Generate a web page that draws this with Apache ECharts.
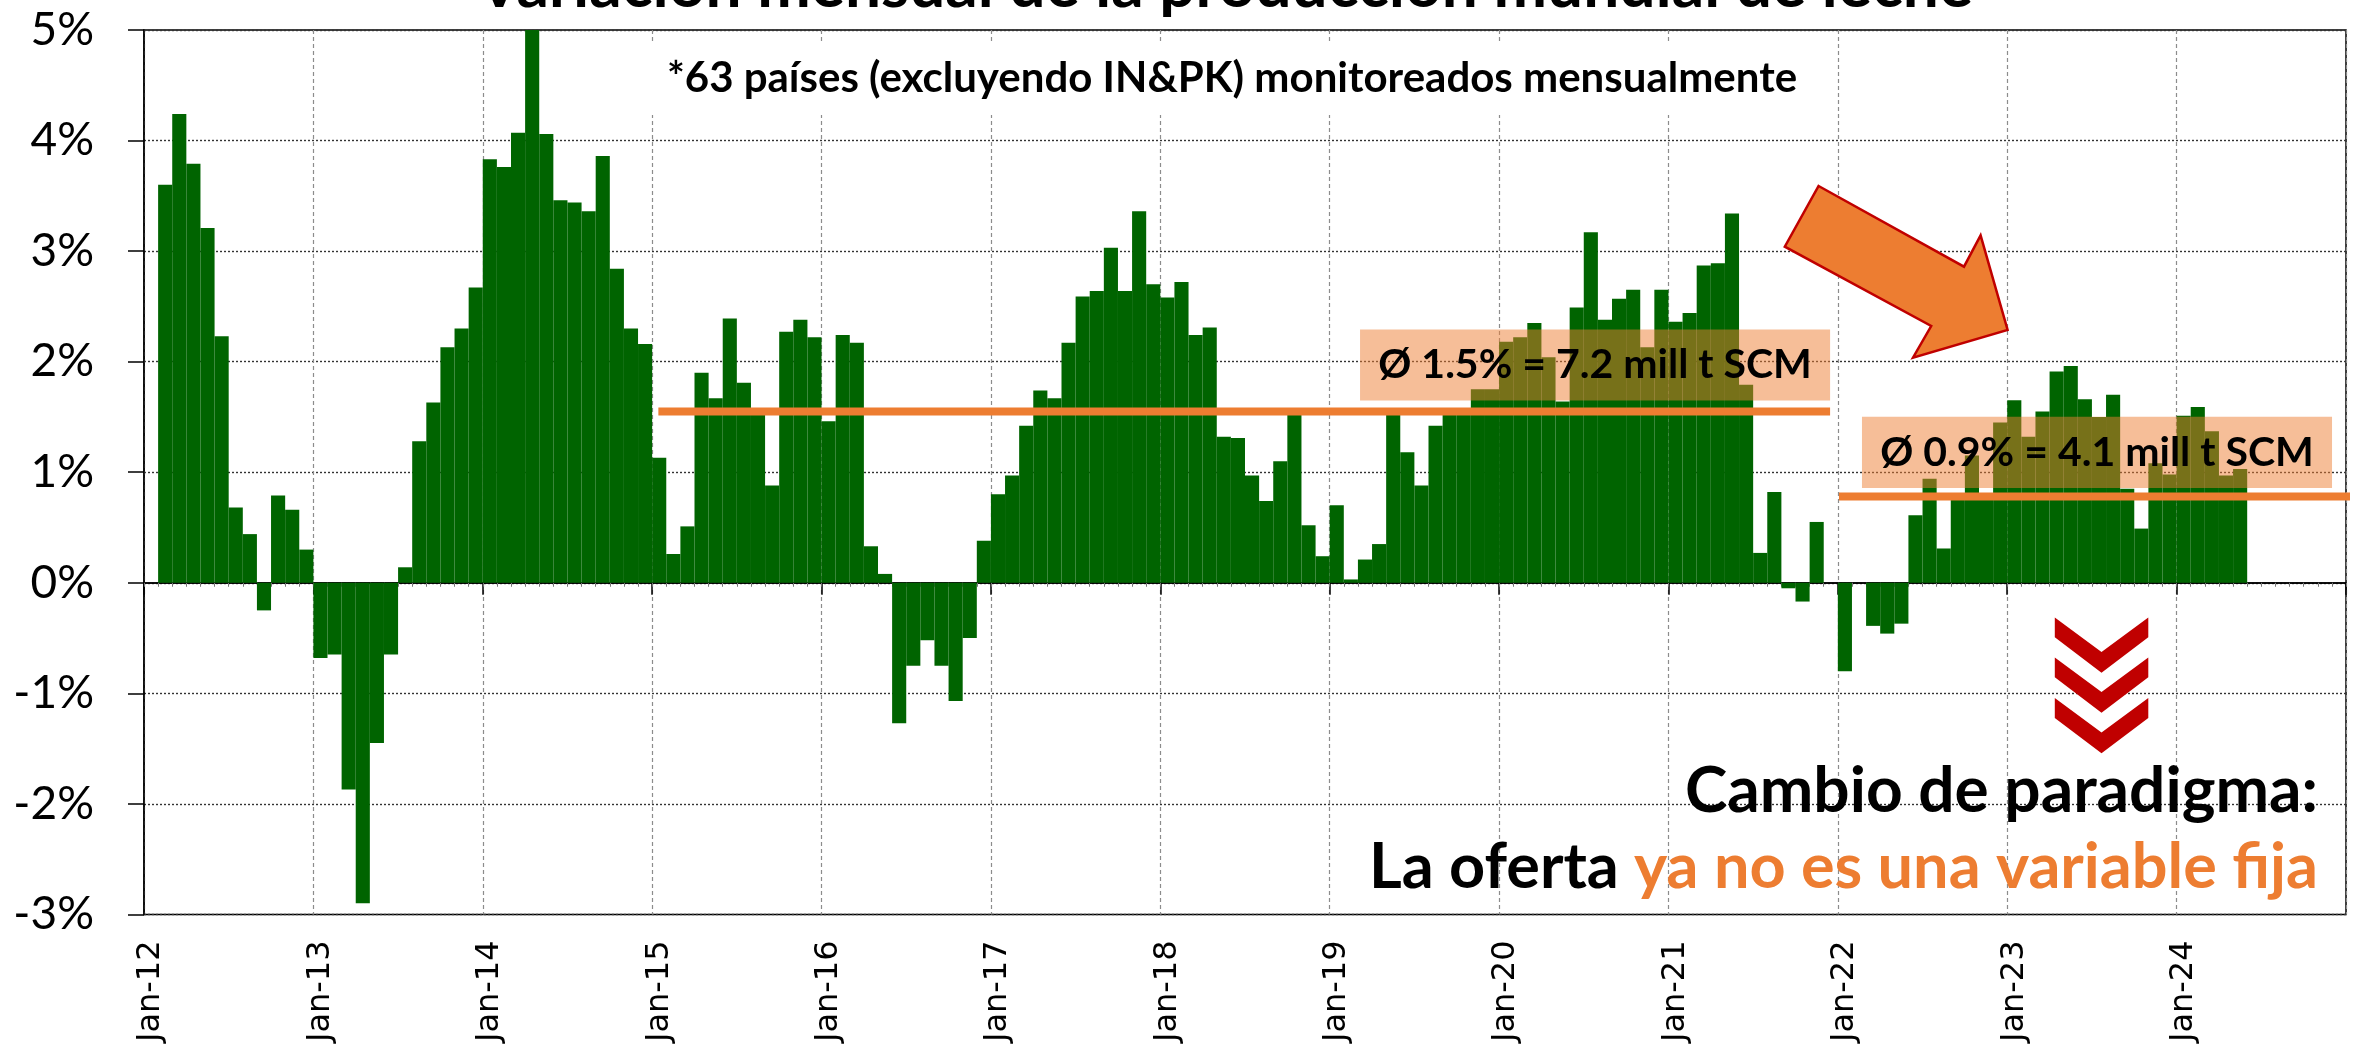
<!DOCTYPE html>
<html>
<head>
<meta charset="utf-8">
<script src="https://cdn.jsdelivr.net/npm/echarts@6/dist/echarts.min.js"></script>
<style>
html,body{margin:0;padding:0;background:#ffffff;}
#chart{width:2374px;height:1045px;}
</style>
</head>
<body>
<div id="chart"></div>
<script>
// ---------- DATA ----------
const monthNames = ['Jan','Feb','Mar','Apr','May','Jun','Jul','Aug','Sep','Oct','Nov','Dec'];
const yearLabels = ['12','13','14','15','16','17','18','19','20','21','22','23','24'];

// monthly y/y change of world milk production (%), Jan..Dec per year
const v2012 = [null, 3.60, 4.24, 3.79, 3.21, 2.23, 0.68, 0.44, -0.25, 0.79, 0.66, 0.30];
const v2013 = [-0.68, -0.65, -1.87, -2.90, -1.45, -0.65, 0.14, 1.28, 1.63, 2.13, 2.30, 2.67];
const v2014 = [3.83, 3.76, 4.07, 5.00, 4.06, 3.46, 3.44, 3.36, 3.86, 2.84, 2.30, 2.16];
const v2015 = [1.13, 0.26, 0.51, 1.90, 1.67, 2.39, 1.81, 1.55, 0.88, 2.27, 2.38, 2.22];
const v2016 = [1.46, 2.24, 2.17, 0.33, 0.08, -1.27, -0.75, -0.52, -0.75, -1.07, -0.50, 0.38];
const v2017 = [0.80, 0.97, 1.42, 1.74, 1.67, 2.17, 2.59, 2.64, 3.03, 2.64, 3.36, 2.70];
const v2018 = [2.58, 2.72, 2.24, 2.31, 1.32, 1.31, 0.97, 0.74, 1.10, 1.53, 0.52, 0.24];
const v2019 = [0.70, 0.03, 0.21, 0.35, 1.53, 1.18, 0.88, 1.42, 1.53, 1.55, 1.75, 1.75];
const v2020 = [2.18, 2.22, 2.35, 2.04, 1.64, 2.49, 3.17, 2.38, 2.57, 2.65, 2.13, 2.65];
const v2021 = [2.36, 2.44, 2.87, 2.89, 3.34, 1.79, 0.27, 0.82, -0.05, -0.17, 0.55, 0.00];
const v2022 = [-0.80, 0.00, -0.39, -0.46, -0.37, 0.61, 0.94, 0.31, 0.78, 1.15, 0.78, 1.45];
const v2023 = [1.65, 1.32, 1.55, 1.91, 1.96, 1.66, 1.50, 1.70, 0.85, 0.49, 1.08, 0.98];
const v2024 = [1.51, 1.59, 1.37, 0.97, 1.03, null, null, null, null, null, null, null];

// average lines: [start month position, level], [end month position, level]
const mean1 = [[36.44, 1.55], [119.45, 1.55]];
const mean2 = [[120.08, 0.78], [158.0, 0.78]];
// label boxes: [x0, yTop, x1, yBottom] in (month position, %)
const boxes = [[86.15, 2.29, 119.45, 1.648], [121.71, 1.502, 155.01, 0.857]];
const boxLabels = ['Ø 1.5% = 7.2 mill t SCM', 'Ø 0.9% = 4.1 mill t SCM'];

const yTicks = { min: -3, max: 5, interval: 1 };

const titleText = 'Variación mensual de la producción mundial de leche';
const subtitleText = '*63 países (excluyendo IN&PK) monitoreados mensualmente';

// ---------- BUILD ----------
const categories = [];
yearLabels.forEach(y => monthNames.forEach(m => categories.push(m + '-' + y)));
const values = [].concat(v2012, v2013, v2014, v2015, v2016, v2017, v2018, v2019, v2020, v2021, v2022, v2023, v2024);

const ORANGE = '#ED7D31';
const GREEN = '#006400';
const RED = '#C00000';
const FONT = 'Lato';

const chart = echarts.init(document.getElementById('chart'), null, { renderer: 'canvas' });

function chevron(top) {
  return [[2054.8, top], [2101.5, top + 34.4], [2148.3, top], [2148.3, top + 19.8], [2101.5, top + 55.2], [2054.8, top + 19.8]];
}

const option = {
  animation: false,
  backgroundColor: '#ffffff',
  grid: { left: 144, right: 28, top: 30, bottom: 123, show: true, borderColor: '#000', borderWidth: 1.5, backgroundColor: 'transparent' },
  xAxis: [
    {
      type: 'category', data: categories, position: 'bottom',
      axisLine: { show: false, onZero: false },
      axisTick: { show: false },
      axisLabel: { interval: 11, rotate: 90, fontSize: 32, fontFamily: 'DejaVu Sans', color: '#000', margin: 26 },
      splitLine: { show: true, interval: 11, lineStyle: { color: '#8c8c8c', type: [4, 3], width: 1.2 } }
    },
    {
      type: 'category', data: categories, position: 'bottom',
      axisLine: { show: true, onZero: true, onZeroAxisIndex: 0, lineStyle: { color: '#000', width: 1.5 } },
      axisTick: { show: true, interval: 11, length: 12, lineStyle: { color: '#000', width: 1.5 } },
      axisLabel: { show: false },
      splitLine: { show: false }
    },
    {
      type: 'category', data: categories, position: 'bottom',
      axisLine: { show: true, onZero: true, onZeroAxisIndex: 0, lineStyle: { color: '#000', width: 1.5 } },
      axisTick: { show: true, interval: 0, length: 4, lineStyle: { color: '#777', width: 1 } },
      axisLabel: { show: false },
      splitLine: { show: false }
    },
    { type: 'value', min: 0, max: categories.length, show: false }
  ],
  yAxis: [{
    type: 'value', min: yTicks.min, max: yTicks.max, interval: yTicks.interval,
    axisLine: { show: true, onZero: false, lineStyle: { color: '#000', width: 1.5 } },
    axisTick: { show: true, length: 16, lineStyle: { color: '#000', width: 1.5 } },
    axisLabel: { formatter: '{value}%', fontSize: 46, fontFamily: FONT, color: '#000', margin: 50 },
    splitLine: { show: true, lineStyle: { color: '#333', type: [2, 2], width: 1.4 } }
  }],
  series: [
    {
      type: 'bar', data: values, xAxisIndex: 0, yAxisIndex: 0,
      barCategoryGap: '0%', barGap: '0%',
      itemStyle: { color: GREEN },
      z: 2, silent: true
    },
    {
      type: 'line', data: mean1, xAxisIndex: 3, yAxisIndex: 0, symbol: 'none', clip: false,
      lineStyle: { color: ORANGE, width: 8, cap: 'butt' }, z: 4, silent: true
    },
    {
      type: 'line', data: mean2, xAxisIndex: 3, yAxisIndex: 0, symbol: 'none', clip: false,
      lineStyle: { color: ORANGE, width: 8, cap: 'butt' }, z: 4, silent: true
    },
    {
      type: 'custom', xAxisIndex: 3, yAxisIndex: 0, z: 5, silent: true, clip: false,
      data: boxes,
      encode: { x: [0, 2], y: [1, 3] },
      renderItem: function (params, api) {
        const p0 = api.coord([api.value(0), api.value(1)]);
        const p1 = api.coord([api.value(2), api.value(3)]);
        return {
          type: 'group',
          children: [
            { type: 'rect', shape: { x: p0[0], y: p0[1], width: p1[0] - p0[0], height: p1[1] - p0[1] },
              style: { fill: 'rgba(237,125,49,0.5)' } },
            { type: 'text', style: { text: boxLabels[params.dataIndex], x: (p0[0] + p1[0]) / 2, y: (p0[1] + p1[1]) / 2,
              align: 'center', verticalAlign: 'middle', fontSize: 41, fontWeight: 'bold', fontFamily: FONT, fill: '#000' } }
          ]
        };
      }
    }
  ],
  graphic: [
    { type: 'text', z: 10, style: { text: titleText, x: 1225, y: -14, align: 'center', verticalAlign: 'middle',
      fontSize: 64, fontWeight: 'bold', fontFamily: FONT, fill: '#000' } },
    { type: 'rect', z: 9, shape: { x: 645, y: 42, width: 1170, height: 73 }, style: { fill: '#ffffff' } },
    { type: 'text', z: 10, style: { text: subtitleText, x: 1232, y: 78, align: 'center', verticalAlign: 'middle',
      fontSize: 42, fontWeight: 'bold', fontFamily: FONT, fill: '#000' } },
    { type: 'polygon', z: 10, shape: { points: [[1818.6,186],[1964,266.7],[1980.6,235.3],[2007.6,330],[1913,357.7],[1931.2,326],[1784.8,246.7]] },
      style: { fill: ORANGE, stroke: RED, lineWidth: 2.5 } },
    { type: 'polygon', z: 10, shape: { points: chevron(617.5) }, style: { fill: RED } },
    { type: 'polygon', z: 10, shape: { points: chevron(657.5) }, style: { fill: RED } },
    { type: 'polygon', z: 10, shape: { points: chevron(698.1) }, style: { fill: RED } },
    { type: 'text', z: 10, style: { text: 'Cambio de paradigma:', x: 2318, y: 791, align: 'right', verticalAlign: 'middle',
      fontSize: 64, fontWeight: 'bold', fontFamily: FONT, fill: '#000' } },
    { type: 'text', z: 10, style: { text: '{k|La oferta }{o|ya no es una variable fija}', x: 2318, y: 868, align: 'right', verticalAlign: 'middle',
      fontSize: 63, fontWeight: 'bold', fontFamily: FONT, fill: '#000',
      rich: {
        k: { fontSize: 63, fontWeight: 'bold', fontFamily: FONT, fill: '#000' },
        o: { fontSize: 63, fontWeight: 'bold', fontFamily: FONT, fill: ORANGE }
      } } }
  ]
};

chart.setOption(option);
</script>
</body>
</html>
